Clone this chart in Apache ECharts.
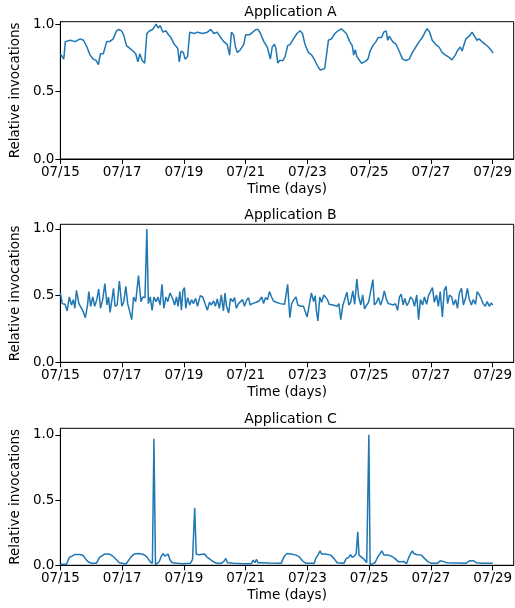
<!DOCTYPE html>
<html>
<head>
<meta charset="utf-8">
<script src="https://cdn.jsdelivr.net/npm/echarts@6/dist/echarts.min.js"></script>
<style>
  html, body { margin: 0; padding: 0; background: #fff; }
  #chart { width: 515px; height: 608px; }
</style>
</head>
<body>
<div id="chart"></div>
<script>
// x positions are in days since 07/15 00:00
const tickLabels = ['07/15', '07/17', '07/19', '07/21', '07/23', '07/25', '07/27', '07/29']
const tickDays = [0, 2, 4, 6, 8, 10, 12, 14]
const titles = ['Application A', 'Application B', 'Application C']

const daysA = [0.00, 0.05, 0.11, 0.16, 0.32, 0.48, 0.64, 0.75, 0.86, 0.96, 1.07, 1.16, 1.23, 1.30, 1.39, 1.50, 1.60, 1.71, 1.82, 1.89,
  1.98, 2.05, 2.14, 2.25, 2.35, 2.44, 2.51, 2.57, 2.65, 2.73, 2.80, 2.89, 2.99, 3.10, 3.17, 3.23, 3.32, 3.42, 3.50, 3.58,
  3.69, 3.80, 3.85, 3.91, 3.98, 4.04, 4.12, 4.19, 4.33, 4.44, 4.60, 4.76, 4.87, 4.97, 5.08, 5.19, 5.29, 5.40, 5.48, 5.54,
  5.61, 5.67, 5.73, 5.83, 5.94, 6.00, 6.12, 6.23, 6.33, 6.40, 6.48, 6.59, 6.70, 6.80, 6.86, 6.93, 6.98, 7.04, 7.10, 7.21,
  7.28, 7.36, 7.44, 7.55, 7.66, 7.76, 7.84, 7.92, 8.03, 8.14, 8.24, 8.35, 8.42, 8.56, 8.62, 8.68, 8.78, 8.89, 8.99, 9.10,
  9.15, 9.26, 9.37, 9.45, 9.50, 9.55, 9.60, 9.69, 9.75, 9.85, 9.96, 10.03, 10.12, 10.22, 10.29, 10.40, 10.47, 10.55, 10.60, 10.65,
  10.76, 10.87, 10.97, 11.08, 11.19, 11.30, 11.40, 11.51, 11.62, 11.72, 11.83, 11.88, 11.96, 12.04, 12.15, 12.26, 12.36, 12.47, 12.58, 12.68,
  12.79, 12.85, 12.90, 12.95, 13.01, 13.06, 13.13, 13.24, 13.33, 13.41, 13.49, 13.56, 13.65, 13.76, 13.86, 13.97, 14.01]
const valuesA = [0.78, 0.77, 0.74, 0.87, 0.88, 0.87, 0.89, 0.88, 0.83, 0.77, 0.74, 0.73, 0.70, 0.78, 0.78, 0.87, 0.87, 0.89, 0.95, 0.96,
  0.95, 0.92, 0.84, 0.82, 0.80, 0.78, 0.72, 0.78, 0.73, 0.71, 0.93, 0.95, 0.96, 1.00, 0.97, 0.99, 0.94, 0.95, 0.92, 0.90,
  0.85, 0.82, 0.72, 0.80, 0.79, 0.74, 0.76, 0.94, 0.93, 0.94, 0.93, 0.94, 0.96, 0.93, 0.94, 0.90, 0.87, 0.85, 0.77, 0.94,
  0.92, 0.83, 0.79, 0.81, 0.85, 0.92, 0.92, 0.94, 0.96, 0.96, 0.93, 0.87, 0.83, 0.74, 0.83, 0.85, 0.82, 0.71, 0.73, 0.73,
  0.76, 0.84, 0.85, 0.89, 0.93, 0.95, 0.93, 0.85, 0.79, 0.77, 0.73, 0.68, 0.66, 0.67, 0.68, 0.88, 0.89, 0.93, 0.95, 0.965,
  0.97, 0.93, 0.87, 0.84, 0.77, 0.81, 0.76, 0.73, 0.71, 0.72, 0.74, 0.80, 0.84, 0.87, 0.90, 0.90, 0.94, 0.95, 0.88, 0.91,
  0.87, 0.85, 0.80, 0.74, 0.73, 0.74, 0.79, 0.83, 0.87, 0.90, 0.95, 0.965, 0.94, 0.88, 0.85, 0.83, 0.79, 0.77, 0.755, 0.735,
  0.77, 0.80, 0.79, 0.83, 0.80, 0.84, 0.89, 0.91, 0.94, 0.91, 0.88, 0.89, 0.87, 0.85, 0.83, 0.80, 0.785]

const daysB = [0.00, 0.06, 0.15, 0.22, 0.29, 0.36, 0.42, 0.47, 0.52, 0.60, 0.66, 0.74, 0.81, 0.88, 0.92, 0.98, 1.05, 1.11, 1.18, 1.24,
  1.30, 1.37, 1.44, 1.51, 1.56, 1.61, 1.67, 1.72, 1.77, 1.84, 1.91, 1.99, 2.05, 2.12, 2.18, 2.24, 2.31, 2.37, 2.44, 2.53,
  2.61, 2.67, 2.74, 2.80, 2.85, 2.91, 2.97, 3.03, 3.10, 3.16, 3.23, 3.29, 3.35, 3.42, 3.48, 3.55, 3.63, 3.70, 3.76, 3.81,
  3.87, 3.92, 3.97, 4.02, 4.06, 4.12, 4.19, 4.25, 4.31, 4.38, 4.44, 4.53, 4.61, 4.70, 4.76, 4.83, 4.89, 4.96, 5.02, 5.08,
  5.15, 5.21, 5.28, 5.33, 5.38, 5.45, 5.51, 5.58, 5.64, 5.70, 5.77, 5.83, 5.90, 5.96, 6.02, 6.09, 6.15, 6.22, 6.28, 6.34,
  6.43, 6.52, 6.58, 6.64, 6.71, 6.77, 6.84, 6.90, 6.99, 7.05, 7.12, 7.18, 7.26, 7.31, 7.36, 7.43, 7.49, 7.56, 7.63, 7.69,
  7.78, 7.87, 7.93, 7.99, 8.06, 8.13, 8.20, 8.25, 8.29, 8.34, 8.40, 8.46, 8.53, 8.59, 8.65, 8.70, 8.76, 8.83, 8.89, 8.96,
  9.02, 9.08, 9.15, 9.21, 9.28, 9.34, 9.40, 9.47, 9.53, 9.60, 9.66, 9.73, 9.79, 9.85, 9.92, 9.98, 10.05, 10.12, 10.17, 10.24,
  10.30, 10.37, 10.43, 10.49, 10.56, 10.62, 10.70, 10.78, 10.85, 10.92, 10.98, 11.04, 11.10, 11.15, 11.22, 11.28, 11.34, 11.41, 11.47, 11.54,
  11.60, 11.66, 11.73, 11.79, 11.86, 11.92, 11.98, 12.05, 12.11, 12.18, 12.24, 12.30, 12.37, 12.43, 12.49, 12.54, 12.60, 12.67, 12.73, 12.80,
  12.86, 12.92, 12.99, 13.05, 13.12, 13.18, 13.24, 13.31, 13.37, 13.44, 13.50, 13.57, 13.63, 13.69, 13.76, 13.82, 13.89, 13.95, 14.00]
const valuesB = [0.52, 0.44, 0.435, 0.385, 0.49, 0.43, 0.47, 0.405, 0.54, 0.44, 0.455, 0.38, 0.335, 0.43, 0.53, 0.42, 0.49, 0.42, 0.47, 0.55,
  0.405, 0.47, 0.59, 0.43, 0.49, 0.375, 0.47, 0.555, 0.42, 0.43, 0.61, 0.42, 0.45, 0.57, 0.44, 0.43, 0.32, 0.49, 0.455, 0.65,
  0.455, 0.49, 0.485, 1.00, 0.44, 0.49, 0.39, 0.49, 0.455, 0.49, 0.43, 0.585, 0.405, 0.49, 0.455, 0.52, 0.48, 0.43, 0.49, 0.42,
  0.53, 0.39, 0.54, 0.56, 0.405, 0.485, 0.43, 0.47, 0.44, 0.48, 0.42, 0.50, 0.49, 0.43, 0.39, 0.45, 0.43, 0.46, 0.42, 0.475,
  0.405, 0.505, 0.385, 0.52, 0.42, 0.37, 0.48, 0.455, 0.485, 0.405, 0.44, 0.43, 0.47, 0.42, 0.46, 0.485, 0.43, 0.44, 0.435, 0.45,
  0.46, 0.49, 0.44, 0.485, 0.47, 0.53, 0.49, 0.46, 0.45, 0.45, 0.44, 0.425, 0.435, 0.45, 0.585, 0.335, 0.44, 0.47, 0.49, 0.43,
  0.42, 0.42, 0.405, 0.34, 0.43, 0.52, 0.455, 0.50, 0.39, 0.31, 0.49, 0.45, 0.505, 0.52, 0.47, 0.435, 0.45, 0.43, 0.44, 0.42,
  0.44, 0.32, 0.43, 0.44, 0.525, 0.43, 0.45, 0.535, 0.435, 0.625, 0.49, 0.43, 0.505, 0.40, 0.43, 0.45, 0.535, 0.62, 0.43, 0.45,
  0.485, 0.43, 0.47, 0.535, 0.47, 0.44, 0.435, 0.43, 0.44, 0.39, 0.49, 0.51, 0.43, 0.48, 0.425, 0.45, 0.49, 0.47, 0.42, 0.505,
  0.32, 0.47, 0.43, 0.49, 0.435, 0.50, 0.49, 0.56, 0.45, 0.505, 0.42, 0.53, 0.34, 0.54, 0.57, 0.44, 0.505, 0.49, 0.43, 0.47,
  0.405, 0.52, 0.555, 0.43, 0.48, 0.555, 0.475, 0.43, 0.47, 0.435, 0.53, 0.505, 0.475, 0.44, 0.42, 0.455, 0.42, 0.445, 0.43]

const daysC = [0.00, 0.20, 0.26, 0.31, 0.34, 0.38, 0.47, 0.63, 0.74, 0.81, 0.90, 1.00, 1.16, 1.22, 1.27, 1.32, 1.43, 1.59, 1.70, 1.81,
  1.91, 2.13, 2.23, 2.29, 2.39, 2.55, 2.69, 2.80, 2.91, 2.98, 3.03, 3.08, 3.12, 3.20, 3.27, 3.33, 3.38, 3.44, 3.49, 3.55,
  3.62, 3.78, 3.99, 4.21, 4.28, 4.35, 4.40, 4.48, 4.55, 4.61, 4.67, 4.74, 4.85, 4.96, 5.06, 5.22, 5.31, 5.36, 5.41, 5.60,
  5.92, 6.19, 6.24, 6.30, 6.35, 6.40, 6.51, 6.77, 7.15, 7.25, 7.34, 7.47, 7.63, 7.73, 7.84, 7.95, 8.22, 8.27, 8.34, 8.41,
  8.46, 8.59, 8.75, 8.86, 8.96, 9.18, 9.26, 9.34, 9.39, 9.45, 9.52, 9.58, 9.63, 9.67, 9.73, 9.84, 9.92, 9.99, 10.03, 10.19,
  10.27, 10.33, 10.41, 10.48, 10.62, 10.72, 10.83, 10.94, 11.02, 11.06, 11.12, 11.21, 11.29, 11.35, 11.40, 11.44, 11.53, 11.69, 11.79, 11.90,
  12.01, 12.22, 12.30, 12.36, 12.42, 12.49, 13.13, 13.26, 13.32, 13.37, 13.41, 13.47, 13.66, 14.00]
const valuesC = [0.008, 0.008, 0.045, 0.065, 0.05, 0.07, 0.083, 0.083, 0.075, 0.05, 0.027, 0.015, 0.015, 0.027, 0.06, 0.07, 0.086, 0.086, 0.07, 0.045,
  0.02, 0.01, 0.045, 0.065, 0.086, 0.09, 0.083, 0.065, 0.027, 0.015, 0.97, 0.005, 0.01, 0.027, 0.07, 0.09, 0.07, 0.083, 0.086, 0.04,
  0.02, 0.015, 0.012, 0.015, 0.045, 0.44, 0.086, 0.08, 0.083, 0.07, 0.086, 0.065, 0.045, 0.027, 0.015, 0.015, 0.035, 0.053, 0.02, 0.015,
  0.012, 0.012, 0.04, 0.02, 0.045, 0.02, 0.02, 0.017, 0.015, 0.07, 0.091, 0.086, 0.078, 0.066, 0.035, 0.015, 0.015, 0.053, 0.078, 0.11,
  0.086, 0.086, 0.078, 0.053, 0.02, 0.015, 0.053, 0.06, 0.083, 0.06, 0.07, 0.091, 0.256, 0.078, 0.066, 0.045, 0.02, 1.0, 0.005, 0.02,
  0.06, 0.045, 0.11, 0.078, 0.078, 0.07, 0.053, 0.028, 0.028, 0.015, 0.03, 0.012, 0.066, 0.091, 0.11, 0.091, 0.083, 0.078, 0.053, 0.028,
  0.015, 0.015, 0.035, 0.045, 0.028, 0.02, 0.015, 0.035, 0.045, 0.035, 0.04, 0.02, 0.015, 0.015]

const yMax = [1.0175, 1.035, 1.05]
const gridTops = [21.7, 224.3, 428.3]
const gridHeights = [137.3, 138, 137]

const FONT = 'DejaVu Sans'
const BLUE = '#1f77b4'

const chart = echarts.init(document.getElementById('chart'), null, { renderer: 'canvas' })

const zip = (xs, ys) => xs.map((x, i) => [x, ys[i]])
const seriesData = [zip(daysA, valuesA), zip(daysB, valuesB), zip(daysC, valuesC)]

const grids = [], xAxes = [], yAxes = [], series = [], titleList = []
for (let i = 0; i < 3; i++) {
  grids.push({
    left: 57, top: gridTops[i], width: 457, height: gridHeights[i],
    show: true, borderColor: '#000', borderWidth: 1, backgroundColor: 'transparent'
  })
  xAxes.push({
    type: 'value', gridIndex: i, min: 0, max: 14.68,
    name: 'Time (days)', nameLocation: 'middle', nameGap: 23,
    nameTextStyle: { color: '#000', fontSize: 13.5, fontFamily: FONT },
    axisLine: { show: true, lineStyle: { color: '#000', width: 1 } },
    axisTick: { show: true, inside: false, length: 5, customValues: tickDays, lineStyle: { color: '#000' } },
    axisLabel: {
      show: true, margin: 6, color: '#000', fontSize: 13.5, fontFamily: FONT,
      customValues: tickDays,
      formatter: (v) => tickLabels[tickDays.indexOf(Math.round(v))] || ''
    },
    splitLine: { show: false }
  })
  yAxes.push({
    type: 'value', gridIndex: i, min: 0, max: yMax[i],
    name: 'Relative invocations', nameLocation: 'middle', nameGap: 31,
    nameTextStyle: { color: '#000', fontSize: 13.5, fontFamily: FONT },
    axisLine: { show: true, lineStyle: { color: '#000', width: 1 } },
    axisTick: { show: true, inside: false, length: 5, customValues: [0, 0.5, 1], lineStyle: { color: '#000' } },
    axisLabel: {
      show: true, margin: 6, color: '#000', fontSize: 13.5, fontFamily: FONT,
      customValues: [0, 0.5, 1],
      formatter: (v) => v.toFixed(1)
    },
    splitLine: { show: false }
  })
  series.push({
    type: 'line', xAxisIndex: i, yAxisIndex: i,
    data: seriesData[i],
    showSymbol: false, symbol: 'none',
    lineStyle: { color: BLUE, width: 1.5 },
    itemStyle: { color: BLUE },
    animation: false
  })
  titleList.push({
    text: titles[i], left: 285.5, top: gridTops[i] - 21, textAlign: 'center',
    textStyle: { color: '#000', fontSize: 14, fontWeight: 'normal', fontFamily: FONT }
  })
}

chart.setOption({
  animation: false,
  title: titleList,
  grid: grids,
  xAxis: xAxes,
  yAxis: yAxes,
  series: series
})
</script>
</body>
</html>
